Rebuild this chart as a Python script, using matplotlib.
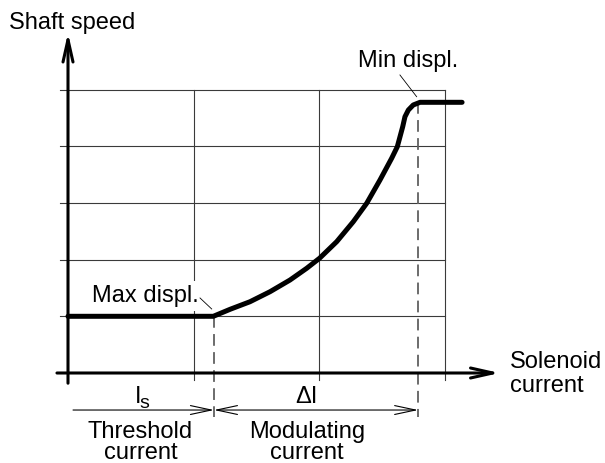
import matplotlib
matplotlib.use("Agg")
import matplotlib.pyplot as plt

plt.rcParams['font.family'] = ['Liberation Sans', 'DejaVu Sans']

# ---- data (grid units: x = solenoid current, y = shaft speed) ----
curve_x = [0.0, 1.158, 1.291, 1.450, 1.610, 1.769, 1.902, 2.005, 2.141, 2.273,
           2.380, 2.486, 2.579, 2.624, 2.667, 2.685, 2.712, 2.751, 2.805, 3.14]
curve_y = [1.0, 1.0, 1.123, 1.257, 1.434, 1.640, 1.847, 2.025, 2.316, 2.668,
           2.993, 3.404, 3.787, 3.991, 4.344, 4.520, 4.638, 4.727, 4.774, 4.774]
grid_x = [1, 2, 3]
grid_y = [1, 2, 3, 4, 5]
threshold_x = 1.163      # I_s, start of modulation (max displacement)
min_displ_x = 2.79       # end of modulation (min displacement)
plateau_y = 4.774

fig = plt.figure(figsize=(6.05, 4.63), dpi=100)
ax = fig.add_axes([0, 0, 1, 1])
ax.set_xlim(-68 / 125.5, (605 - 68) / 125.5)
ax.set_ylim((373 - 463) / 56.7, 373 / 56.7)
ax.axis('off')

gcol = '#3a3a3a'
# grid
for gx in grid_x:
    ax.plot([gx, gx], [-0.123, grid_y[-1]], color=gcol, lw=0.8, zorder=1)
for gy in grid_y:
    ax.plot([-0.064, grid_x[-1]], [gy, gy], color=gcol, lw=0.8, zorder=1)

# dashed verticals
dcol = '#606060'
ax.plot([threshold_x, threshold_x], [1.0, -0.77], color=dcol, lw=1.3,
        dashes=(6.5, 3.5), zorder=2)
ax.plot([min_displ_x, min_displ_x], [plateau_y, -0.77], color=dcol, lw=1.3,
        dashes=(6.5, 3.5), zorder=2)

# axes arrows
axprops = dict(arrowstyle='->,head_length=16,head_width=3.6', mutation_scale=1,
               lw=2.2, color='black', shrinkA=0, shrinkB=0)
ax.annotate('', xy=(0, 6.0), xytext=(0, -0.18), arrowprops=axprops, zorder=4)
ax.annotate('', xy=(3.44, 0), xytext=(-0.088, 0), arrowprops=axprops, zorder=4)

# curve
ax.plot(curve_x, curve_y, color='black', lw=3.6, solid_capstyle='round',
        solid_joinstyle='round', zorder=5)

# dimension line
dim_y = -0.653
dprops = dict(mutation_scale=1, lw=0.8, color='black', shrinkA=0, shrinkB=0)
ax.annotate('', xy=(threshold_x, dim_y), xytext=(0.04, dim_y),
            arrowprops=dict(arrowstyle='->,head_length=15,head_width=3.2', **dprops))
ax.annotate('', xy=(min_displ_x, dim_y), xytext=(threshold_x, dim_y),
            arrowprops=dict(arrowstyle='<->,head_length=15,head_width=3.2', **dprops))

fs = 17
# labels
ax.text(-0.470, 6.062, 'Shaft speed', fontsize=fs, ha='left', va='baseline')
ax.text(3.108, 5.397, 'Min displ.', fontsize=fs, ha='right', va='baseline')
ax.plot([2.645, 2.778], [5.256, 4.873], color='black', lw=0.6, zorder=3)
ax.text(0.191, 1.252, 'Max displ.', fontsize=fs, ha='left', va='baseline',
        bbox=dict(facecolor='white', edgecolor='none', pad=2.5), zorder=3)
ax.plot([1.052, 1.145], [1.323, 1.129], color='black', lw=0.6, zorder=3)
ax.text(3.522, 0.081, 'Solenoid', fontsize=fs, ha='left', va='baseline')
ax.text(3.522, -0.33, 'current', fontsize=fs, ha='left', va='baseline')

ax.text((134.5 - 68) / 125.5, -0.534, 'I', fontsize=fs, ha='left', va='baseline')
ax.text((139.5 - 68) / 125.5, -0.62, 's', fontsize=14, ha='left', va='baseline')
ax.text(1.896, -0.534, '\u0394I', fontsize=fs, ha='center', va='baseline')

ax.text(0.578, -1.141, 'Threshold', fontsize=fs, ha='center', va='baseline')
ax.text(0.578, -1.52, 'current', fontsize=fs, ha='center', va='baseline')
ax.text(1.904, -1.141, 'Modulating', fontsize=fs, ha='center', va='baseline')
ax.text(1.904, -1.52, 'current', fontsize=fs, ha='center', va='baseline')

fig.savefig('out.png', dpi=100)
